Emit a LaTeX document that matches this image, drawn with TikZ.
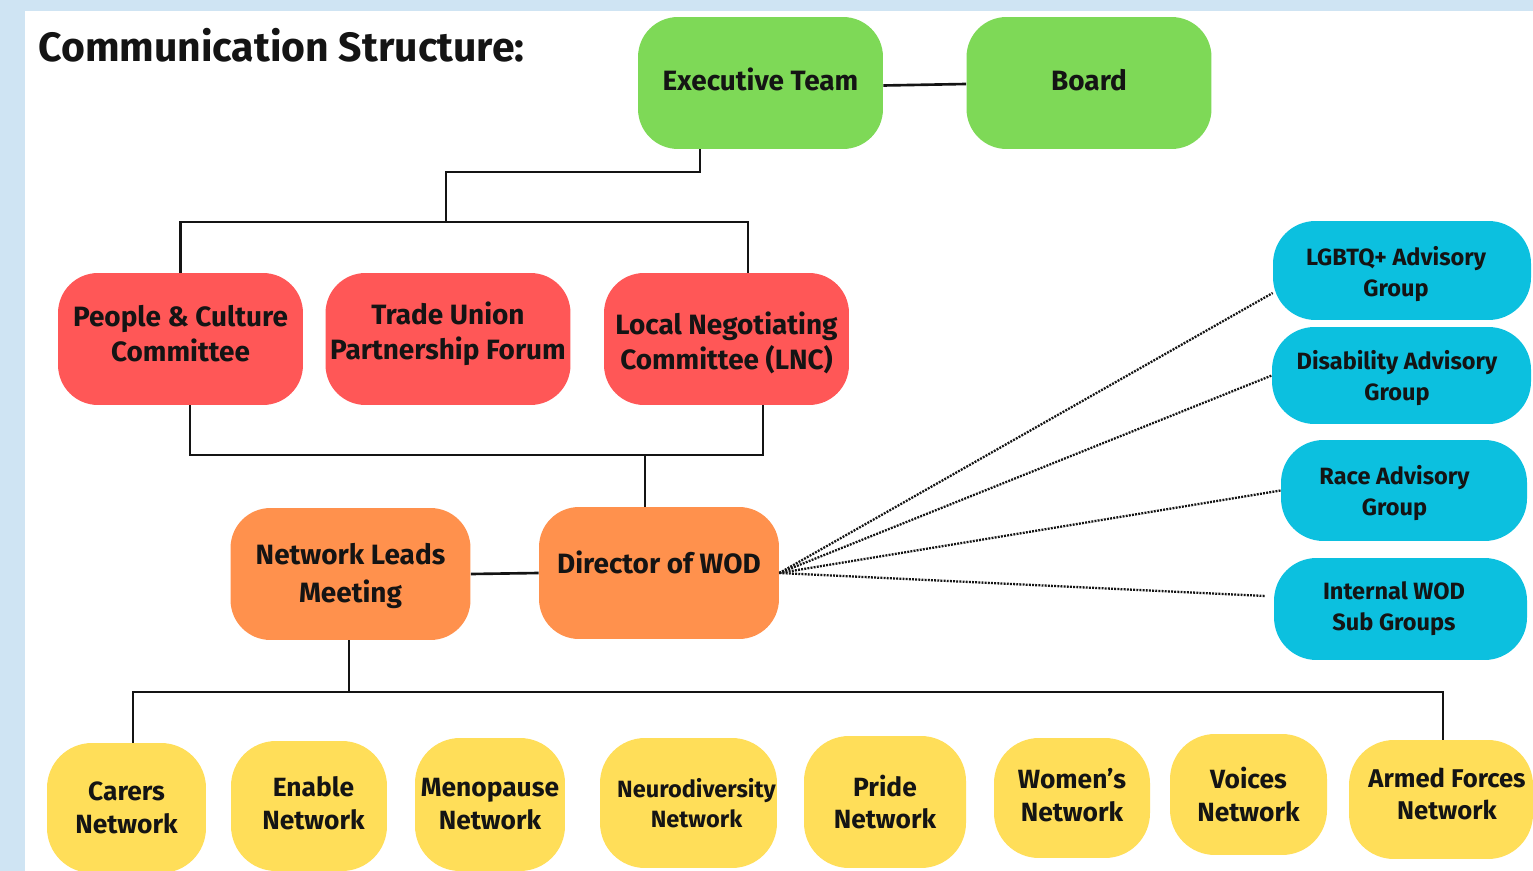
\documentclass[tikz,border=0pt]{standalone}
\usepackage{fontspec}
\setmainfont{Fira Sans}
\definecolor{pageblue}{HTML}{CFE4F3}
\definecolor{cgreen}{HTML}{7ED957}
\definecolor{cred}{HTML}{FF5757}
\definecolor{corange}{HTML}{FF914D}
\definecolor{cblue}{HTML}{0CC0DF}
\definecolor{cyellow}{HTML}{FFDE59}
\definecolor{ink}{HTML}{141414}
\begin{document}
\begin{tikzpicture}[x=0.02cm,y=-0.02cm,
  box/.style={rectangle, rounded corners=0.8cm, inner sep=0pt},
  topbox/.style={box, fill=cgreen, minimum width=4.9cm, minimum height=2.64cm},
  redbox/.style={box, fill=cred, minimum width=4.9cm, minimum height=2.64cm},
  orangebox/.style={box, fill=corange, minimum width=4.8cm, minimum height=2.64cm},
  bluebox/.style={box, fill=cblue, rounded corners=0.85cm},
  yellowbox/.style={box, fill=cyellow, rounded corners=0.9cm},
  lbl/.style={align=center, text=ink, inner sep=0pt,
    font=\bfseries\fontsize{15.9}{19.8}\selectfont},
  bluelbl/.style={lbl, font=\bfseries\fontsize{13.4}{17.6}\selectfont},
  yellowlbl/.style={lbl, font=\bfseries\fontsize{15}{18.7}\selectfont},
  link/.style={draw=ink, line width=1.5pt},
  dotlink/.style={draw=ink, line width=1.3pt, dash pattern=on 1.1pt off 0.7pt}
]
\useasboundingbox (0,0) rectangle (1533,871);
% page background
\fill[pageblue] (0,0) rectangle (1533,871);
\fill[white] (25,11) rectangle (1533,871);

\node[anchor=base west, text=ink, inner sep=0pt, font=\bfseries\fontsize{23.3}{28}\selectfont] (title) at (38,62) {Communication Structure:};

% top tier
\node[topbox] (exec) at (760.5,83) {};
\node[topbox] (board) at (1089,83) {};
\node[lbl] (exec-t) at ([yshift=0.08cm]exec.center) {Executive Team};
\node[lbl] (board-t) at ([yshift=0.06cm]board.center) {Board};

% committees
\node[redbox] (pcc) at (180.5,339) {};
\node[redbox] (tupf) at (448,339) {};
\node[redbox] (lnc) at (726.5,339) {};
\node[lbl] (pcc-t) at ([yshift=0.1cm]pcc.center) {People \& Culture\\Committee};
\node[lbl] (tupf-t) at ([yshift=0.1cm]tupf.center) {Trade Union\\Partnership Forum};
\node[lbl] (lnc-t) at ([yshift=-0.07cm]lnc.center) {Local Negotiating\\Committee (LNC)};

% WOD tier
\node[orangebox] (nlm) at (350.5,574) {};
\node[orangebox] (dir) at (659,573) {};
\node[lbl, font=\bfseries\fontsize{15.9}{21.5}\selectfont] (nlm-t) at ([yshift=-0.04cm]nlm.center) {Network Leads\\Meeting};
\node[lbl] (dir-t) at ([yshift=0.22cm]dir.center) {Director of WOD};

% advisory groups
\node[bluebox, minimum width=5.16cm, minimum height=1.98cm] (lgbtq) at (1402,270.5) {};
\node[bluebox, minimum width=5.18cm, minimum height=1.94cm] (dis) at (1401.5,375.5) {};
\node[bluebox, minimum width=4.92cm, minimum height=2.02cm] (race) at (1404,490.5) {};
\node[bluebox, minimum width=5.06cm, minimum height=2.04cm] (iwod) at (1400.5,609) {};
\node[bluelbl] (lgbtq-t) at ([xshift=-0.12cm,yshift=-0.08cm]lgbtq.center) {LGBTQ+ Advisory\\Group};
\node[bluelbl] (dis-t) at ([xshift=-0.09cm,yshift=-0.06cm]dis.center) {Disability Advisory\\Group};
\node[bluelbl] (race-t) at ([xshift=-0.19cm,yshift=-0.06cm]race.center) {Race Advisory\\Group};
\node[bluelbl] (iwod-t) at ([xshift=-0.13cm]iwod.center) {Internal WOD\\Sub Groups};

% staff networks
\node[yellowbox, minimum width=3.18cm, minimum height=2.6cm] (carers) at (126.5,808) {};
\node[yellowbox, minimum width=3.12cm, minimum height=2.6cm] (enable) at (309,806) {};
\node[yellowbox, minimum width=3.0cm, minimum height=2.66cm] (meno) at (490,804.5) {};
\node[yellowbox, minimum width=3.54cm, minimum height=2.6cm] (neuro) at (688.5,803) {};
\node[yellowbox, minimum width=3.24cm, minimum height=2.64cm] (pride) at (885,802) {};
\node[yellowbox, minimum width=3.12cm, minimum height=2.4cm] (women) at (1072,798) {};
\node[yellowbox, minimum width=3.14cm, minimum height=2.42cm] (voices) at (1248.5,794.5) {};
\node[yellowbox, minimum width=3.68cm, minimum height=2.38cm] (armed) at (1441,799.5) {};
\node[yellowlbl] (carers-t) at (carers.center) {Carers\\Network};
\node[yellowlbl] (enable-t) at ([xshift=0.09cm,yshift=0.06cm]enable.center) {Enable\\Network};
\node[yellowlbl] (meno-t) at (meno.center) {Menopause\\Network};
\node[yellowlbl, font=\bfseries\fontsize{13.4}{17}\selectfont] (neuro-t) at ([xshift=0.16cm]neuro.center) {Neurodiversity\\Network};
\node[yellowlbl] (pride-t) at (pride.center) {Pride\\Network};
\node[yellowlbl] (women-t) at ([yshift=0.05cm]women.center) {Women's\\Network};
\node[yellowlbl] (voices-t) at (voices.center) {Voices\\Network};
\node[yellowlbl, font=\bfseries\fontsize{14.6}{18.4}\selectfont] (armed-t) at ([xshift=0.12cm,yshift=0.11cm]armed.center) {Armed Forces\\Network};

% junction points of the bracket connectors
\coordinate (a1) at (700,172);
\coordinate (a2) at (446,222);
\coordinate (b1) at (645,455);
\coordinate (c1) at (349,692);

% solid connectors
\draw[link] ([yshift=-0.05cm]exec.east) -- ([yshift=-0.02cm]board.west);
\draw[link] (exec.south -| a1) |- (a2 |- a1) -- (a2);
\draw[link] (pcc.north) |- (a2) -| ([xshift=0.43cm]lnc.north);
\draw[link] ([xshift=0.19cm]pcc.south) |- (b1) -| ([xshift=0.73cm]lnc.south);
\draw[link] (b1) -- (dir.north -| b1);
\draw[link] (nlm.east) -- (dir.west);
\draw[link] (nlm.south -| c1) -- (c1);
\draw[link] ([xshift=0.13cm]carers.north) |- (c1) -| ([xshift=0.04cm]armed.north);

% dotted links to advisory groups
\draw[dotlink] (dir.east) -- ([yshift=-0.45cm]lgbtq.west);
\draw[dotlink] (dir.east) -- (dis.west);
\draw[dotlink] (dir.east) -- (race.west);
\draw[dotlink] (dir.east) -- ([xshift=-0.16cm,yshift=0.26cm]iwod.west);
\end{tikzpicture}
\end{document}
